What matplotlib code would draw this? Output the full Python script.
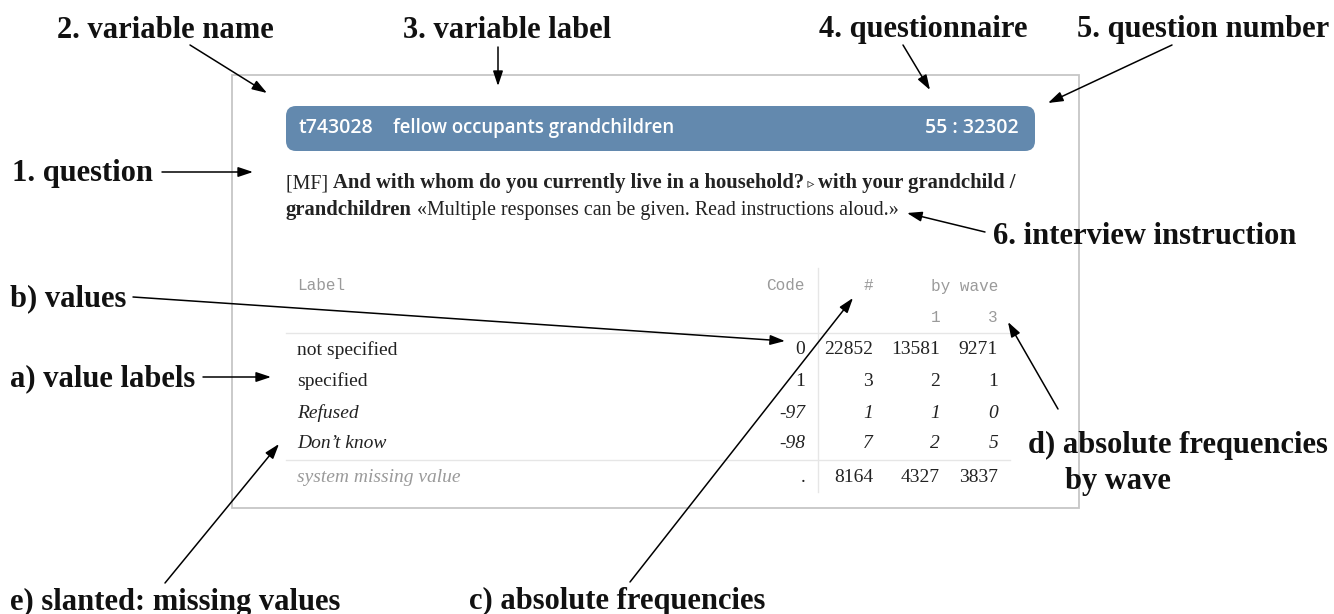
import matplotlib
matplotlib.use("Agg")
import matplotlib.pyplot as plt
from matplotlib.patches import FancyBboxPatch, Rectangle

# ---------------- data ----------------
var_name = "t743028"
var_label = "fellow occupants grandchildren"
q_ref = "55 : 32302"
value_labels = ["not specified", "specified", "Refused", "Don\u2019t know", "system missing value"]
codes = ["0", "1", "-97", "-98", "."]
freq_total = [22852, 3, 1, 7, 8164]
freq_wave1 = [13581, 2, 1, 2, 4327]
freq_wave3 = [9271, 1, 0, 5, 3837]
is_missing = [False, False, True, True, True]
waves = ["1", "3"]
col_headers = ["Label", "Code", "#", "by wave"]

annotations = [
    # text, text position, horizontal alignment, arrow tail, arrow tip
    ("2. variable name", (57, 30), "left", (190, 45), (267, 93)),
    ("3. variable label", (403, 30), "left", (498, 47), (498, 86)),
    ("4. questionnaire", (819, 30), "left", (903, 45), (930, 90)),
    ("5. question number", (1329, 30), "right", (1172, 45), (1048, 103)),
    ("1. question", (12, 173), "left", (162, 172), (253, 172)),
    ("6. interview instruction", (993, 236), "left", (985, 232), (907, 213)),
    ("b) values", (10, 299), "left", (133, 297), (785, 341)),
    ("a) value labels", (10, 379), "left", (203, 377), (271, 377)),
    ("d) absolute frequencies", (1028, 445), "left", (1058, 409), (1008, 322)),
    ("e) slanted: missing values", (10, 602), "left", (165, 583), (279, 444)),
    ("c) absolute frequencies", (469, 601), "left", (630, 582), (853, 298)),
]

W, H = 1334, 614
fig = plt.figure(figsize=(W / 100, H / 100), dpi=100)
ax = fig.add_axes([0, 0, 1, 1])
ax.set_xlim(0, W)
ax.set_ylim(H, 0)
ax.axis("off")

SERIF = ["Liberation Serif", "DejaVu Serif", "DejaVu Sans"]
MONO = "Liberation Mono"
SANS = "Open Sans"

# outer frame
ax.add_patch(Rectangle((232, 75), 1079 - 232, 508 - 75, fill=False,
                       edgecolor="#c6c6c6", lw=1.3))

# banner
ax.add_patch(FancyBboxPatch((286, 106), 1035 - 286, 151 - 106,
                            boxstyle="round,pad=0,rounding_size=10",
                            facecolor="#6389ae", edgecolor="none"))
BFS = 14
ax.text(299, 128, var_name, color="white", fontsize=BFS, family=SANS,
        weight="semibold", va="center", ha="left")
ax.text(393, 128, var_label, color="white", fontsize=13.4, family=SANS,
        weight="semibold", va="center", ha="left")
ax.text(1019, 128, q_ref, color="white", fontsize=BFS, family=SANS,
        weight="semibold", va="center", ha="right")

# question text (rich segments)
renderer = fig.canvas.get_renderer()
QFS = 14.9
QFS_REG = 14.4


def draw_segments(x, y, segments):
    for txt, weight, size in segments:
        t = ax.text(x, y, txt, fontsize=size, family=SERIF, weight=weight,
                    va="baseline", ha="left", color="#222222")
        bb = t.get_window_extent(renderer=renderer)
        x += bb.width
    return x


draw_segments(286, 188, [
    ("[MF] ", "normal", QFS_REG),
    ("And with whom do you currently live in a household?", "bold", QFS),
    (" \u25B9 ", "normal", 10),
    ("with your grandchild /", "bold", QFS),
])
draw_segments(286, 215, [
    ("grandchildren", "bold", QFS),
    (" \u00abMultiple responses can be given. Read instructions aloud.\u00bb", "normal", QFS_REG),
])

# table
hdr_color = "#9a9a9a"
line_color = "#e6e6e6"
x_label = 297
x_code = 805
x_tot = 873
x_w = [940, 998]
MFS = 11.5

ax.text(x_label, 286, col_headers[0], family=MONO, fontsize=MFS, color=hdr_color, va="center", ha="left")
ax.text(x_code, 286, col_headers[1], family=MONO, fontsize=MFS, color=hdr_color, va="center", ha="right")
ax.text(x_tot, 286, col_headers[2], family=MONO, fontsize=MFS, color=hdr_color, va="center", ha="right")
ax.text(x_w[1], 286, col_headers[3], family=MONO, fontsize=MFS, color=hdr_color, va="center", ha="right")
for xw, w in zip(x_w, waves):
    ax.text(xw, 318, w, family=MONO, fontsize=MFS, color=hdr_color, va="center", ha="right")

ax.plot([286, 1010], [333, 333], color=line_color, lw=1)
ax.plot([286, 1010], [460, 460], color=line_color, lw=1)
ax.plot([818, 818], [268, 492], color=line_color, lw=1)

row_y = [350, 381, 413, 444, 477]
RFS = 14
for i, y in enumerate(row_y):
    sysmiss = (codes[i] == ".")
    style = "italic" if is_missing[i] else "normal"
    lab_color = "#9a9a9a" if sysmiss else "#222222"
    ax.text(x_label, y, value_labels[i], family=SERIF, fontsize=RFS, style=style,
            color=lab_color, va="center", ha="left")
    num_style = "normal" if sysmiss else style
    ax.text(x_code, y, codes[i], family=SERIF, fontsize=RFS, style=num_style,
            color="#222222", va="center", ha="right")
    ax.text(x_tot, y, str(freq_total[i]), family=SERIF, fontsize=RFS, style=num_style,
            color="#222222", va="center", ha="right")
    ax.text(x_w[0], y, str(freq_wave1[i]), family=SERIF, fontsize=RFS, style=num_style,
            color="#222222", va="center", ha="right")
    ax.text(x_w[1], y, str(freq_wave3[i]), family=SERIF, fontsize=RFS, style=num_style,
            color="#222222", va="center", ha="right")

# annotations
AFS = 22
for txt, (tx, ty), ha, tail, tip in annotations:
    ax.text(tx, ty, txt, family=SERIF, fontsize=AFS, weight="bold",
            va="center", ha=ha, color="#111111")
    ax.annotate("", xy=tip, xytext=tail,
                arrowprops=dict(arrowstyle="-|>,head_length=0.9,head_width=0.3",
                                color="black", lw=1.1, shrinkA=0, shrinkB=0))
ax.text(1065, 482, "by wave", family=SERIF, fontsize=AFS, weight="bold",
        va="center", ha="left", color="#111111")

fig.savefig("out.png", dpi=100)
